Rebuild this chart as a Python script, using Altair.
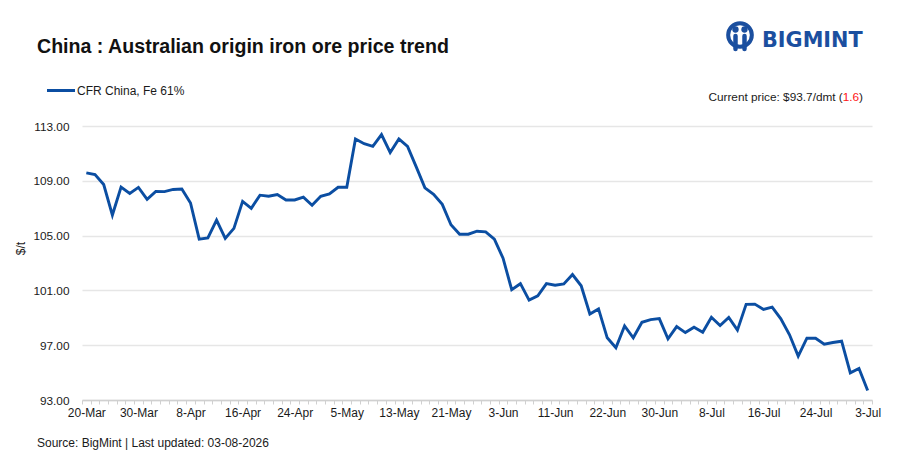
import json
import altair as alt
import pandas as pd

# ---------------- data ----------------
prices = [
    109.58, 109.45, 108.73, 106.50, 108.54, 108.08, 108.52, 107.65, 108.23, 108.21,
    108.37, 108.40, 107.38, 104.74, 104.83, 106.13, 104.79, 105.53, 107.50, 106.99,
    107.95, 107.87, 108.00, 107.60, 107.60, 107.80, 107.21, 107.87, 108.05, 108.53,
    108.53, 112.05, 111.71, 111.51, 112.37, 111.07, 112.05, 111.51, 110.02, 108.48,
    108.01, 107.28, 105.79, 105.10, 105.10, 105.32, 105.27, 104.74, 103.35, 101.05,
    101.49, 100.29, 100.61, 101.49, 101.38, 101.47, 102.16, 101.34, 99.28, 99.65,
    97.54, 96.81, 98.41, 97.54, 98.67, 98.87, 98.94, 97.46, 98.36, 97.92,
    98.31, 97.95, 99.04, 98.43, 99.03, 98.10, 99.98, 100.00, 99.61, 99.78,
    98.93, 97.76, 96.20, 97.51, 97.51, 97.07, 97.20, 97.29, 94.98, 95.30, 93.70,
]
tick_labels = ["20-Mar", "30-Mar", "8-Apr", "16-Apr", "24-Apr", "5-May", "13-May",
               "21-May", "3-Jun", "11-Jun", "22-Jun", "30-Jun", "8-Jul", "16-Jul",
               "24-Jul", "3-Jul"]
y_ticks = [93, 97, 101, 105, 109, 113]
title_text = "China : Australian origin iron ore price trend"
series_name = "CFR China, Fe 61%"
price_prefix = "Current price: $93.7/dmt ("
price_change = "1.6"
price_suffix = ")"
source_text = "Source: BigMint | Last updated: 03-08-2026"
logo_text = "BIGMINT"

LINE = "#0b4ea2"
LOGO = "#1b4f9f"
FONT = "Liberation Sans"
TXT = "#1a1a1a"

df = pd.DataFrame({"idx": list(range(len(prices))), "price": prices})
one = pd.DataFrame({"k": [0]})

label_expr = ("datum.value % 6 == 0 ? " + json.dumps(tick_labels)
              + "[datum.value / 6] : ''")

line = alt.Chart(df).mark_line(color=LINE, strokeWidth=2.9).encode(
    x=alt.X(
        "idx:O",
        bandPosition=0.5,
        scale=alt.Scale(type="band", paddingInner=0, paddingOuter=0),
        axis=alt.Axis(
            title=None, labelExpr=label_expr, labelAngle=0, labelOverlap=False,
            tickBand="extent", tickSize=4, tickColor="#d0d0d0", tickWidth=1,
            domainColor="#d0d0d0", domainWidth=1.5, labelPadding=3,
            labelFontSize=12, labelColor=TXT, labelFont=FONT, grid=False,
        ),
    ),
    y=alt.Y(
        "price:Q",
        scale=alt.Scale(domain=[93, 113], nice=False, zero=False),
        axis=alt.Axis(
            values=y_ticks, format=".2f", title="$/t", grid=True,
            gridColor="#e6e6e6", gridWidth=1.5, domain=False, ticks=False,
            labelPadding=13, labelFontSize=11.8, labelColor=TXT, labelFont=FONT,
            titleFont=FONT, titleFontSize=12, titleFontWeight="normal",
            titleColor=TXT, titleAngle=270, titleX=-55, titleY=122,
            titleAlign="center", titleBaseline="bottom",
        ),
    ),
)


def txt(s, x, y, size=12, color=TXT, weight="normal", align="left",
        baseline="middle", font=FONT):
    return alt.Chart(one).mark_text(
        text=s, fontSize=size, color=color, fontWeight=weight, align=align,
        baseline=baseline, font=font,
    ).encode(x=alt.value(x), y=alt.value(y))


title = txt(title_text, -45, -73.3, size=19.6, weight="bold", color="#111111",
            baseline="alphabetic")
legend_line = alt.Chart(one).mark_rule(color=LINE, strokeWidth=3).encode(
    x=alt.value(-35), x2=alt.value(-7), y=alt.value(-35.5))
legend_text = txt(series_name, -5, -35.5, size=12)
cp1 = txt(price_prefix, 760.8, -29, size=11.8, align="right")
cp2 = txt(price_change, 777.1, -29, size=11.8, align="right", color="#ff1414")
cp3 = txt(price_suffix, 781, -29, size=11.8, align="right")
source = txt(source_text, -45, 317, size=12)

# BigMint logo: circle of two figures + word mark
logo_word = txt(logo_text, 680, -79, size=20.8, weight="bold", color=LOGO,
                baseline="alphabetic", font="DejaVu Sans")
logo_ring = alt.Chart(one).mark_point(
    shape="circle", filled=False, color=LOGO, size=560, strokeWidth=4,
    opacity=1).encode(x=alt.value(658), y=alt.value(-91))
logo_heads = alt.Chart(pd.DataFrame({"hx": [653.5, 662.5]})).mark_point(
    shape="circle", filled=True, color=LOGO, size=40, opacity=1).encode(
    x=alt.X("hx:Q", scale=None), y=alt.value(-96.5))
logo_bodies = alt.Chart(pd.DataFrame({"bx": [653.5, 662.5]})).mark_rule(
    color=LOGO, strokeWidth=4.5, strokeCap="round").encode(
    x=alt.X("bx:Q", scale=None), y=alt.value(-90), y2=alt.value(-77))

chart = alt.layer(
    line, title, legend_line, legend_text, cp1, cp2, cp3, source,
    logo_ring, logo_heads, logo_bodies, logo_word,
).properties(
    width=790, height=274,
    autosize=alt.AutoSizeParams(type="none"),
    padding={"left": 74, "top": 118, "right": 24, "bottom": 52},
    background="white",
).configure_view(stroke=None)

chart.save("out.html", embed_options={"renderer": "svg", "actions": False})
